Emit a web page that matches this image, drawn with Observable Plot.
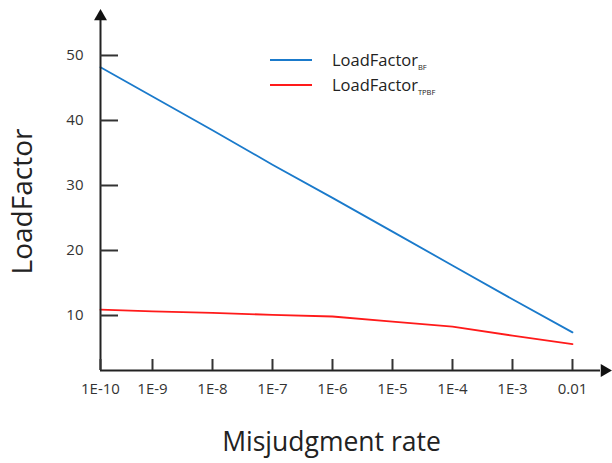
<!DOCTYPE html>
<html><head><meta charset="utf-8">
<script src="https://cdn.jsdelivr.net/npm/d3@7"></script>
<script src="https://cdn.jsdelivr.net/npm/@observablehq/plot@0.6"></script>
<style>
body{margin:0;background:#fff;}
#wrap{position:relative;width:612px;height:463px;font-family:"Open Sans",sans-serif;}
.lg{position:absolute;left:270px;height:20px;display:flex;align-items:center;font-size:16.5px;color:#222;white-space:nowrap;}
.lg .sw{width:42px;height:2px;margin-right:20px;}
.lg sub{font-size:7.5px;vertical-align:-4px;}
</style></head>
<body><div id="wrap"></div>
<script>
const exps = [-10,-9,-8,-7,-6,-5,-4,-3,-2];
const tickLabels = ["1E-10","1E-9","1E-8","1E-7","1E-6","1E-5","1E-4","1E-3","0.01"];
const loadFactorBF = [48.2,43.7,38.5,33.2,28.1,22.9,17.7,12.5,7.4];
const loadFactorTPBF = [10.9,10.65,10.4,10.1,9.85,9.05,8.3,6.9,5.6];
const yTicks = [10,20,30,40,50];
const seriesNames = ["BF","TPBF"];
const seriesColors = ["#1a7acb","#ff1a1a"];

const data = exps.flatMap((e,i)=>[
  {x:e, y:loadFactorBF[i], s:"BF"},
  {x:e, y:loadFactorTPBF[i], s:"TPBF"}
]);
// the first interval (1E-10 to 1E-9) is drawn narrower than the others in the reference
const firstGap = 52/60;
const warp = d => d < -9 ? -9 - (-9 - d) * firstGap : d;
const xMin = -10, xMax = -1.533, yMin = 1.54, yMax = 55.38;

const chart = Plot.plot({
  width:612, height:463,
  marginLeft:100, marginRight:12, marginTop:20, marginBottom:93,
  x:{transform:warp, domain:[warp(xMin), xMax]},
  y:{domain:[yMin,yMax]},
  color:{domain:seriesNames, range:seriesColors},
  style:{fontFamily:"'Open Sans', sans-serif", fontSize:"15px", color:"#333", background:"#fff"},
  marks:[
    Plot.line(data, {x:"x", y:"y", stroke:"s", strokeWidth:1.8}),
    Plot.ruleX([xMin], {stroke:"#222", strokeWidth:2}),
    Plot.ruleY([yMin], {stroke:"#222", strokeWidth:2}),
    Plot.dot([{x:xMin,y:yMax}], {x:"x", y:"y", symbol:"triangle", r:4.8, fill:"#111", stroke:null, dy:-4}),
    Plot.dot([{x:xMax,y:yMin}], {x:"x", y:"y", symbol:"triangle", r:4.8, fill:"#111", stroke:null, rotate:90, dx:4}),
    Plot.axisY(yTicks, {tickSize:-18, tickPadding:35, strokeWidth:2, stroke:"#333", label:null, fill:"#333"}),
    Plot.axisX(exps, {tickSize:-11, tickPadding:24, strokeWidth:2, stroke:"#333", label:null, fill:"#333",
      tickFormat:d=>tickLabels[exps.indexOf(d)]}),
    Plot.text(["LoadFactor"], {frameAnchor:"left", textAnchor:"middle", rotate:-90, dx:-77, dy:6, fontSize:28, fill:"#222"}),
    Plot.text(["Misjudgment rate"], {frameAnchor:"bottom", textAnchor:"middle", dx:-19, dy:80, fontSize:26.5, fill:"#222"})
  ]
});
const wrap = document.getElementById("wrap");
wrap.appendChild(chart);
const tops = [50, 75];
const subs = ["BF","TPBF"];
seriesNames.forEach((n,i)=>{
  const row = document.createElement("div");
  row.className = "lg";
  row.style.top = tops[i] + "px";
  row.innerHTML = `<div class="sw" style="background:${seriesColors[i]}"></div><span>LoadFactor<sub>${subs[i]}</sub></span>`;
  wrap.appendChild(row);
});
</script>
</body></html>
